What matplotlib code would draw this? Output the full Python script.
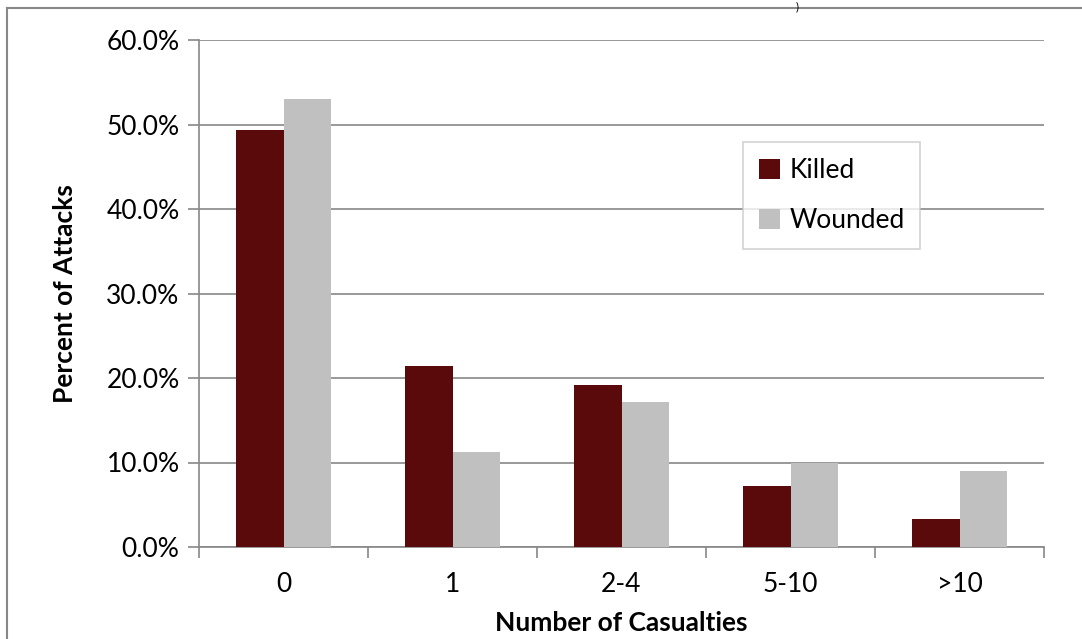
import matplotlib.pyplot as plt
import numpy as np
from matplotlib.lines import Line2D

categories = ['0', '1', '2-4', '5-10', '>10']
killed = [49.3, 21.4, 19.2, 7.2, 3.3]
wounded = [53.0, 11.3, 17.2, 9.9, 9.0]

plt.rcParams['font.family'] = ['Lato', 'DejaVu Sans']

W, H = 1082, 639
fig = plt.figure(figsize=(W / 100, H / 100), dpi=100)
ax = fig.add_axes([199 / W, 1 - 547 / H, (1044 - 199) / W, (547 - 40) / H])

x = np.arange(len(categories))
bw = 0.284
ax.bar(x - bw / 2, killed, bw, color='#5a0a0a', label='Killed', zorder=3)
ax.bar(x + bw / 2, wounded, bw, color='#c0c0c0', label='Wounded', zorder=3)

ax.set_xlim(-0.5, len(categories) - 0.5)
ax.set_ylim(0, 60)
ax.set_yticks(np.arange(0, 61, 10))
ax.set_yticklabels(['%.1f%%' % v for v in np.arange(0, 61, 10)], fontsize=19)
ax.set_xticks(x)
ax.set_xticklabels(categories, fontsize=19)
ax.set_xticks(np.arange(-0.5, len(categories)), minor=True)
ax.tick_params(axis='x', which='major', length=0, pad=18)
ax.tick_params(axis='x', which='minor', length=8, color='#888888', width=1.2)
ax.tick_params(axis='y', length=8, color='#888888', width=1.2, direction='out', pad=6)

ax.grid(axis='y', color='#888888', linewidth=1.2, zorder=0)
for s in ['top', 'right']:
    ax.spines[s].set_visible(False)
for s in ['left', 'bottom']:
    ax.spines[s].set_color('#888888')
    ax.spines[s].set_linewidth(1.2)

ax.set_xlabel('Number of Casualties', fontsize=19, fontweight='bold', labelpad=10)
ax.set_ylabel('Percent of Attacks', fontsize=19, fontweight='bold', labelpad=21)

leg = ax.legend(loc='upper left', bbox_to_anchor=((743 - 199) / (1044 - 199), 1 - (142 - 40) / 507),
                fontsize=19, frameon=True, fancybox=False, edgecolor='#c8c8c8',
                handlelength=0.8, handleheight=0.8, handletextpad=0.35,
                labelspacing=0.95, borderpad=0.6, borderaxespad=0)
leg.get_frame().set_linewidth(1.2)

# frame of the surrounding page
fig.add_artist(Line2D([7 / W, 7 / W], [0, 1 - 8 / H], color='#888888', linewidth=1.5))
fig.add_artist(Line2D([7 / W, 1], [1 - 8 / H, 1 - 8 / H], color='#888888', linewidth=1.5))
fig.text(797 / W, 1 - 1 / H, ')', fontsize=8, va='top', ha='center')

fig.savefig('out.png', dpi=100)
